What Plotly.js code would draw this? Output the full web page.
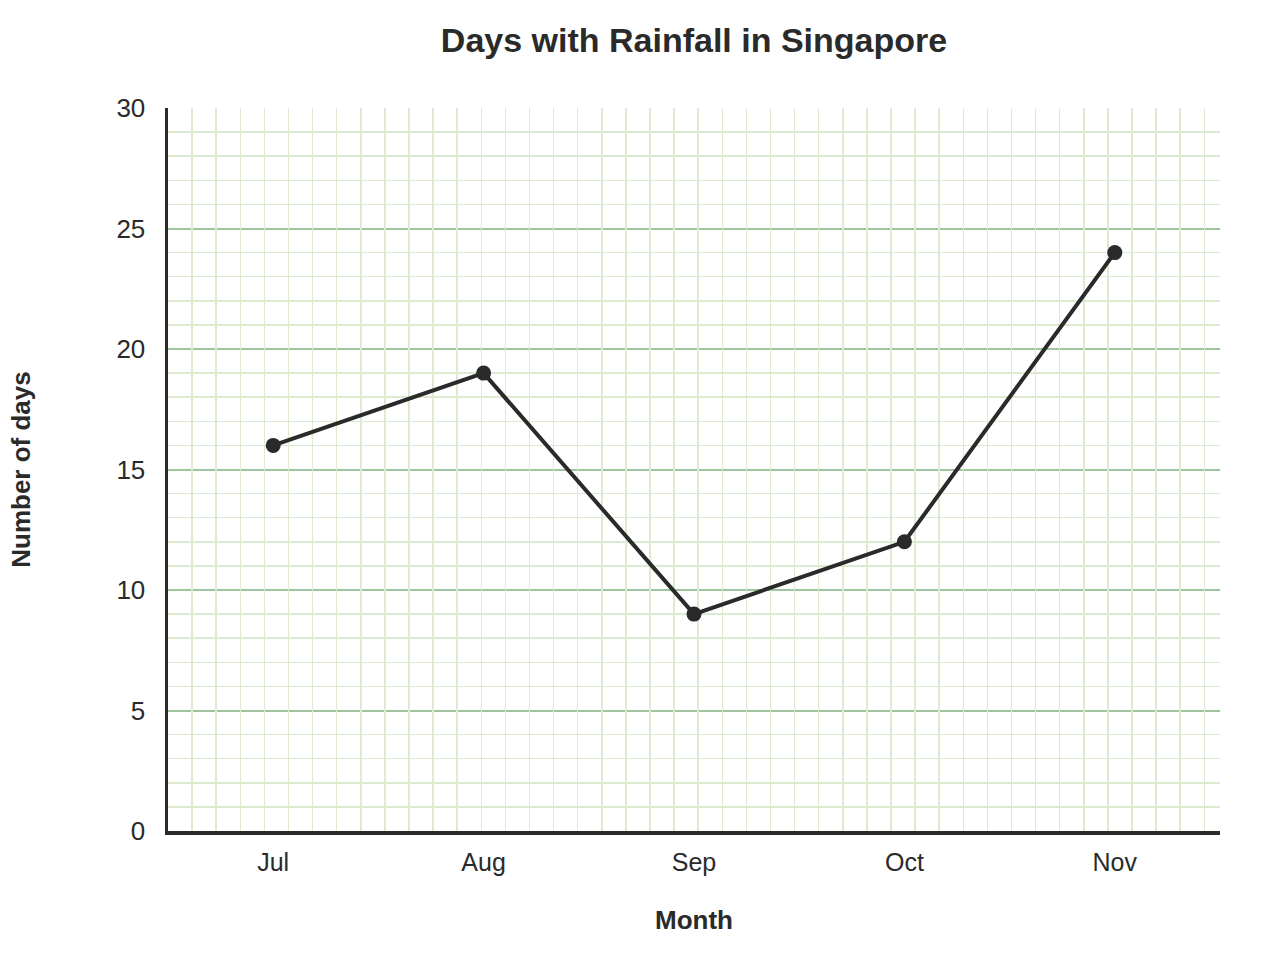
<!DOCTYPE html>
<html>
<head>
<meta charset="utf-8">
<script src="https://cdn.plot.ly/plotly-3.0.1.min.js"></script>
<style>
  html, body { margin: 0; padding: 0; background: #fff; }
  #graph { width: 1280px; height: 980px; }
</style>
</head>
<body>
<div id="graph"></div>
<script>
let months = ["Jul", "Aug", "Sep", "Oct", "Nov"];
let rainDays = [16, 19, 9, 12, 24];
let yTicks = [0, 5, 10, 15, 20, 25, 30];

let ink = "#2a2a2a";
let fontFam = "Liberation Sans, Arial, sans-serif";

// plot box in pixels, so the vertical grid makes squares like the horizontal one
let box = {left: 168, right: 60, top: 108, bottom: 149};
let plotW = 1280 - box.left - box.right;
let plotH = 980 - box.top - box.bottom;
let squares = plotW / (plotH / 30);

let rain = {
    x: months.map((m, i) => i),
    y: rainDays,
    mode: "lines+markers",
    line: {color: ink, width: 4},
    marker: {color: ink, size: 15},
    cliponaxis: false,
    hoverinfo: "x+y"
};

// empty trace just to carry the square grid axis
let gridTrace = {
    x: [0, squares],
    y: [0, 0],
    xaxis: "x2",
    mode: "none",
    hoverinfo: "skip",
    showlegend: false
};

let layout = {
    width: 1280,
    height: 980,
    margin: {l: box.left, r: box.right, t: box.top, b: box.bottom, pad: 0},
    paper_bgcolor: "#fff",
    plot_bgcolor: "#fff",
    showlegend: false,
    font: {family: fontFam, color: ink, size: 25},
    title: {
        text: "<b>Days with Rainfall in Singapore</b>",
        font: {family: fontFam, size: 34, color: ink},
        xref: "paper", x: 0.5, xanchor: "center",
        yref: "container", y: 1 - 40 / 980, yanchor: "middle"
    },
    xaxis: {
        range: [-0.5, 4.5],
        tickvals: months.map((m, i) => i),
        ticktext: months,
        showgrid: false,
        zeroline: false,
        showline: true,
        linecolor: ink,
        linewidth: 3.5,
        ticks: "",
        ticklabelstandoff: 6,
        tickfont: {size: 25, color: ink},
        title: {text: "<b>Month</b>", font: {size: 26, color: ink}, standoff: 37},
        layer: "above traces"
    },
    xaxis2: {
        overlaying: "x",
        side: "top",
        range: [0, squares],
        dtick: 1,
        tick0: 0,
        showgrid: true,
        gridcolor: "#dcebd0",
        gridwidth: 1.5,
        showticklabels: false,
        zeroline: false,
        showline: false,
        ticks: "",
        layer: "below traces"
    },
    yaxis: {
        range: [0, 30],
        tickvals: yTicks,
        showgrid: true,
        gridcolor: "#9fc59f",
        gridwidth: 2,
        minor: {dtick: 1, showgrid: true, gridcolor: "#dcebd0", gridwidth: 1.5, ticks: ""},
        zeroline: false,
        showline: true,
        linecolor: ink,
        linewidth: 3.5,
        ticks: "",
        ticklabelstandoff: 14,
        tickfont: {size: 26, color: ink},
        title: {text: "<b>Number of days</b>", font: {size: 26, color: ink}, standoff: 79},
        layer: "above traces"
    }
};

Plotly.newPlot("graph", [gridTrace, rain], layout, {displayModeBar: false, staticPlot: true});
</script>
</body>
</html>
